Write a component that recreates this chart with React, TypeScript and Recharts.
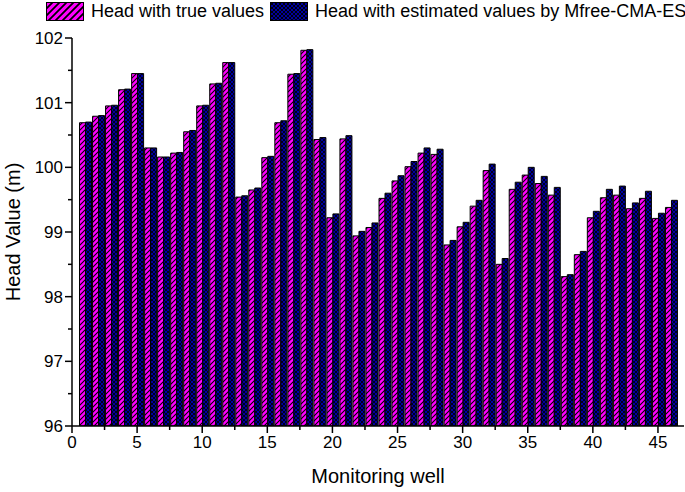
import React from "react";
import { BarChart, Bar, XAxis, YAxis } from "recharts";

// Monitoring well numbers
const wells = [
  1, 2, 3, 4, 5, 6, 7, 8, 9, 10, 11, 12, 13, 14, 15, 16, 17, 18, 19, 20, 21, 22, 23,
  24, 25, 26, 27, 28, 29, 30, 31, 32, 33, 34, 35, 36, 37, 38, 39, 40, 41, 42, 43, 44,
  45, 46,
];

// Head with true values (m)
const trueHead = [
  100.69, 100.79, 100.95, 101.2, 101.45, 100.3, 100.16, 100.22, 100.55, 100.95,
  101.29, 101.62, 99.54, 99.65, 100.15, 100.69, 101.44, 101.81, 100.43, 99.22,
  100.44, 98.94, 99.07, 99.52, 99.79, 100.01, 100.22, 100.2, 98.8, 99.08, 99.4,
  99.95, 98.5, 99.66, 99.88, 99.75, 99.57, 98.31, 98.65, 99.22, 99.53, 99.57,
  99.36, 99.52, 99.21, 99.38,
];

// Head with estimated values by Mfree-CMA-ES (m)
const estHead = [
  100.7, 100.8, 100.96, 101.21, 101.45, 100.3, 100.16, 100.23, 100.57, 100.96,
  101.3, 101.62, 99.56, 99.68, 100.17, 100.72, 101.45, 101.82, 100.46, 99.28,
  100.49, 99.01, 99.14, 99.6, 99.87, 100.09, 100.3, 100.28, 98.87, 99.15, 99.49,
  100.05, 98.59, 99.77, 100.0, 99.86, 99.69, 98.34, 98.7, 99.32, 99.66, 99.71,
  99.45, 99.63, 99.29, 99.49,
];

const xTicks = [
  0, 2.5, 5, 7.5, 10, 12.5, 15, 17.5, 20, 22.5, 25, 27.5, 30, 32.5, 35, 37.5, 40,
  42.5, 45,
];
const yTicks = [96, 96.5, 97, 97.5, 98, 98.5, 99, 99.5, 100, 100.5, 101, 101.5, 102];

const chartData = wells.map((w, i) => ({
  well: w,
  trueHead: trueHead[i],
  estHead: estHead[i],
}));

const FONT = "'Liberation Sans', Arial, sans-serif";

const XTick = (props: any) => {
  const { x, y, payload } = props;
  const v = payload.value;
  const major = v % 5 === 0;
  return (
    <g>
      <line x1={x} x2={x} y1={y} y2={y + (major ? 7 : 4)} stroke="#000" strokeWidth={1.5} />
      {major && (
        <text x={x} y={y + 22} textAnchor="middle" fontSize={17} fill="#000" fontFamily={FONT}>
          {v}
        </text>
      )}
    </g>
  );
};

const YTick = (props: any) => {
  const { x, y, payload } = props;
  const v = payload.value;
  const major = Number.isInteger(v);
  return (
    <g>
      <line x1={x} x2={x - (major ? 7 : 4)} y1={y} y2={y} stroke="#000" strokeWidth={1.5} />
      {major && (
        <text x={x - 9} y={y + 6} textAnchor="end" fontSize={17} fill="#000" fontFamily={FONT}>
          {v}
        </text>
      )}
    </g>
  );
};

const LegendBox = ({ id }: { id: string }) => (
  <svg width={38} height={19} style={{ display: "block" }}>
    <rect x={0.5} y={0.5} width={37} height={18} fill={`url(#${id})`} stroke="#000" />
  </svg>
);

export default function App() {
  return (
    <div style={{ position: "absolute", left: 0, top: 0, width: 685, height: 492, background: "#fff", fontFamily: FONT }}>
      <svg width={0} height={0} style={{ position: "absolute" }}>
        <defs>
          <pattern id="legPink" patternUnits="userSpaceOnUse" width={7} height={7}>
            <rect width={7} height={7} fill="#FF00FF" />
            <path d="M0,7 L7,0 M-2,2 L2,-2 M5,9 L9,5" stroke="#000" strokeWidth={1.8} />
          </pattern>
          <pattern id="legBlue" patternUnits="userSpaceOnUse" width={4} height={4}>
            <rect width={4} height={4} fill="#0000A0" />
            <path d="M0,4 L4,0 M0,0 L4,4" stroke="#000" strokeWidth={0.9} />
          </pattern>
        </defs>
      </svg>
      <div
        style={{
          position: "absolute",
          left: 46,
          top: 1,
          display: "flex",
          alignItems: "center",
          fontSize: 18,
          color: "#000",
          whiteSpace: "nowrap",
        }}
      >
        <LegendBox id="legPink" />
        <span style={{ marginLeft: 7, marginRight: 6 }}>Head with true values</span>
        <LegendBox id="legBlue" />
        <span style={{ marginLeft: 7 }}>Head with estimated values by Mfree-CMA-ES</span>
      </div>
      <BarChart
        width={685}
        height={492}
        data={chartData}
        margin={{ top: 38, right: 1, bottom: 0, left: 0 }}
        barGap={0}
        barSize={6}
      >
        <defs>
          <pattern id="barPink" patternUnits="userSpaceOnUse" width={5} height={5}>
            <rect width={5} height={5} fill="#FF00FF" />
            <path d="M0,5 L5,0 M-1,1 L1,-1 M4,6 L6,4" stroke="#000" strokeWidth={1.1} />
          </pattern>
          <pattern id="barBlue" patternUnits="userSpaceOnUse" width={4} height={4}>
            <rect width={4} height={4} fill="#0000A0" />
            <path d="M0,4 L4,0 M0,0 L4,4" stroke="#000" strokeWidth={0.8} />
          </pattern>
        </defs>
        <XAxis
          dataKey="well"
          type="number"
          domain={[0, 47]}
          ticks={xTicks}
          interval={0}
          height={66}
          tickSize={0}
          tickMargin={0}
          tickLine={false}
          tick={<XTick />}
          axisLine={{ stroke: "#000", strokeWidth: 1.5 }}
          allowDecimals
          label={(p: any) => {
            const vb = p.viewBox;
            return (
              <text x={vb.x + vb.width / 2} y={483} textAnchor="middle" fontSize={20} fill="#000" fontFamily={FONT}>
                Monitoring well
              </text>
            );
          }}
        />
        <YAxis
          type="number"
          domain={[96, 102]}
          ticks={yTicks}
          interval={0}
          width={72}
          tickSize={0}
          tickMargin={0}
          tickLine={false}
          tick={<YTick />}
          axisLine={{ stroke: "#000", strokeWidth: 1.5 }}
          allowDataOverflow
          label={(p: any) => {
            const vb = p.viewBox;
            const cy = vb.y + vb.height / 2;
            return (
              <text
                x={20}
                y={cy}
                transform={`rotate(-90, 20, ${cy})`}
                textAnchor="middle"
                fontSize={20}
                fill="#000"
                fontFamily={FONT}
              >
                Head Value (m)
              </text>
            );
          }}
        />
        <Bar
          dataKey="trueHead"
          name="Head with true values"
          fill="url(#barPink)"
          stroke="#000"
          strokeWidth={1}
          isAnimationActive={false}
        />
        <Bar
          dataKey="estHead"
          name="Head with estimated values by Mfree-CMA-ES"
          fill="url(#barBlue)"
          stroke="#000"
          strokeWidth={1}
          isAnimationActive={false}
        />
      </BarChart>
    </div>
  );
}
